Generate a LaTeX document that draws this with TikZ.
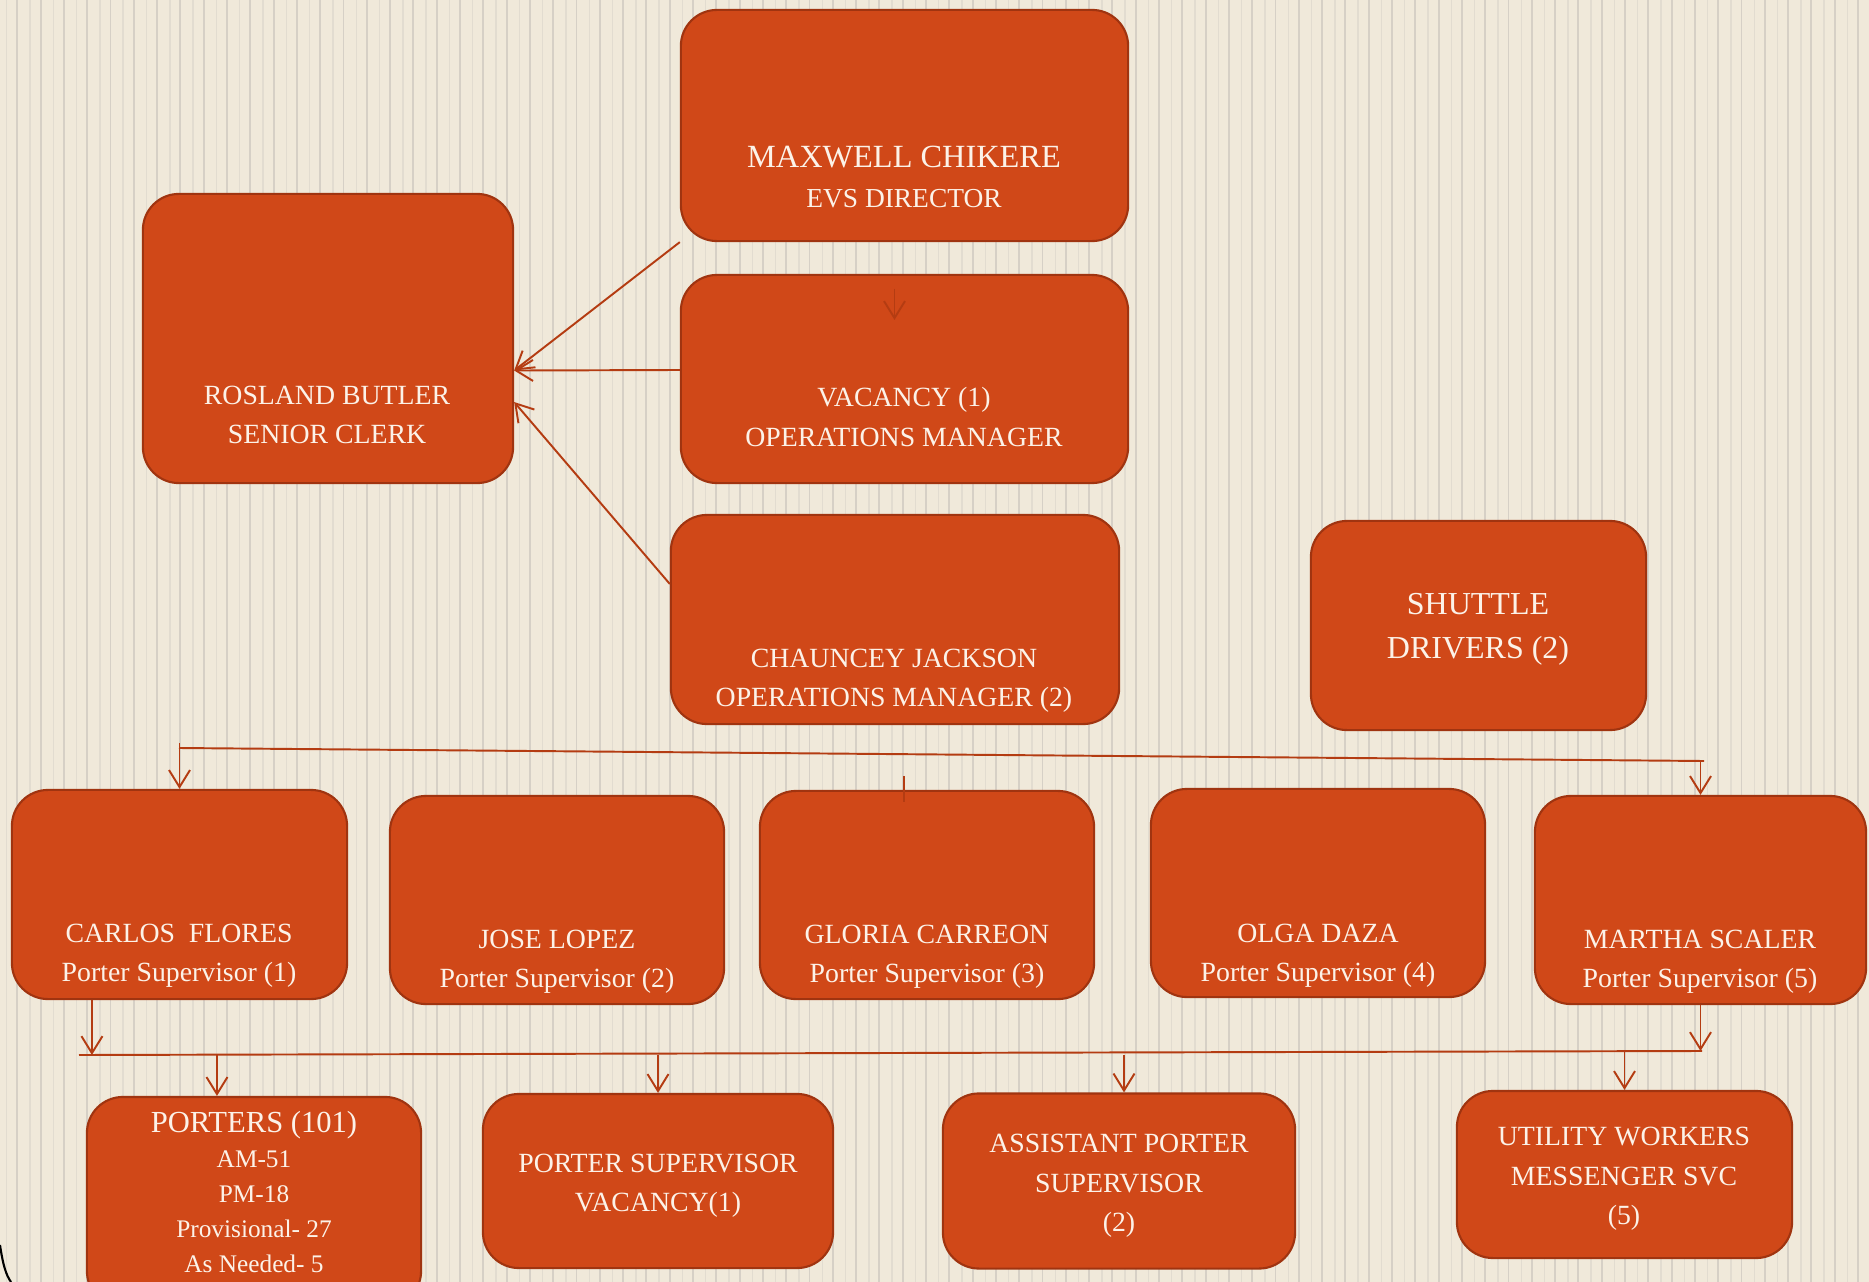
\documentclass[tikz,border=0pt]{standalone}
\usepackage{fontspec}
\setmainfont{Liberation Serif}
\usetikzlibrary{arrows.meta}
\definecolor{bgcream}{HTML}{F0E9DA}
\definecolor{stripedk}{HTML}{D6D0C6}
\definecolor{stripelt}{HTML}{E2DCD0}
\definecolor{boxfill}{HTML}{D04818}
\definecolor{boxline}{HTML}{A03410}
\definecolor{linkred}{HTML}{B43C12}
\definecolor{txtcream}{HTML}{FCF2E8}
\tikzset{
  box/.style={draw=boxline, line width=0.6pt, fill=boxfill, rounded corners=0.36cm},
  txt/.style={text=txtcream, align=center, inner sep=0pt, font=\fontsize{7.9}{11.2}\selectfont},
  link/.style={draw=linkred, line width=0.55pt},
  conn/.style={link, -{Straight Barb[length=1.7mm,width=2.1mm]}}
}
\begin{document}
\begin{tikzpicture}[x=0.01cm,y=-0.01cm]
\useasboundingbox (0,0) rectangle (1869,1282);
\clip (0,0) rectangle (1869,1282);
\fill[bgcream] (0,0) rectangle (1869,1282);
\foreach \i in {0,...,80} {
  \draw[stripelt, line width=0.4pt] (6.7+23.3*\i,0) -- ++(0,1282);
  \draw[stripedk, line width=0.55pt] (17.3+23.3*\i,0) -- ++(0,1282);
}
\draw[black, line width=0.6pt] (0,1245) .. controls (3,1265) and (6,1275) .. (11,1282);

\node[box, minimum width=4.47cm, minimum height=2.31cm] (maxwell) at (904.5,125.5) {};
\node[box, minimum width=3.70cm, minimum height=2.89cm] (rosland) at (328,338.5) {};
\node[box, minimum width=4.47cm, minimum height=2.08cm] (vacancy) at (904.5,379) {};
\node[box, minimum width=4.48cm, minimum height=2.09cm] (chauncey) at (895,619.5) {};
\node[box, minimum width=3.35cm, minimum height=2.09cm] (shuttle) at (1478.5,625.5) {};
\node[box, minimum width=3.35cm, minimum height=2.09cm] (carlos) at (179.5,894.5) {};
\node[box, minimum width=3.34cm, minimum height=2.08cm] (jose) at (557,900) {};
\node[box, minimum width=3.34cm, minimum height=2.08cm] (gloria) at (927,895) {};
\node[box, minimum width=3.34cm, minimum height=2.08cm] (olga) at (1318,893) {};
\node[box, minimum width=3.31cm, minimum height=2.08cm] (martha) at (1700.5,900) {};
\node[box, minimum width=3.34cm, minimum height=2.10cm] (porters) at (254,1202) {};
\node[box, minimum width=3.50cm, minimum height=1.74cm] (psvac) at (658,1181) {};
\node[box, minimum width=3.52cm, minimum height=1.75cm] (assist) at (1119,1181) {};
\node[box, minimum width=3.35cm, minimum height=1.67cm] (utility) at (1624.5,1174.5) {};

\node[txt, font=\fontsize{7.8}{11.4}\selectfont] (maxwellT) at (904,177) {{\fontsize{9.2}{11.4}\selectfont MAXWELL CHIKERE}\\EVS DIRECTOR};
\node[txt] (roslandT) at (327,415) {ROSLAND BUTLER\\SENIOR CLERK};
\node[txt] (vacancyT) at (904,417) {VACANCY (1)\\OPERATIONS MANAGER};
\node[txt] (chaunceyT) at (894,681) {CHAUNCEY JACKSON\\OPERATIONS MANAGER (2)};
\node[txt, font=\fontsize{9.1}{12.5}\selectfont] (shuttleT) at (1478,629) {SHUTTLE\\DRIVERS (2)};
\node[txt] (carlosT) at (179,956) {CARLOS\ \ FLORES\\Porter Supervisor (1)};
\node[txt] (joseT) at (557,962) {JOSE LOPEZ\\Porter Supervisor (2)};
\node[txt] (gloriaT) at (927,957) {GLORIA CARREON\\Porter Supervisor (3)};
\node[txt] (olgaT) at (1318,956) {OLGA DAZA\\Porter Supervisor (4)};
\node[txt] (marthaT) at (1700,962) {MARTHA SCALER\\Porter Supervisor (5)};
\node[txt, font=\fontsize{7.2}{10}\selectfont] (portersT) at (254,1192) {{\fontsize{8.7}{10.5}\selectfont PORTERS (101)}\\AM-51\\PM-18\\Provisional- 27\\As Needed- 5};
\node[txt] (psvacT) at (658,1186) {PORTER SUPERVISOR\\VACANCY(1)};
\node[txt] (assistT) at (1119,1186) {ASSISTANT PORTER\\SUPERVISOR\\(2)};
\node[txt] (utilityT) at (1624,1179) {UTILITY WORKERS\\MESSENGER SVC\\(5)};

\draw[conn] (maxwell.south west) -- ([yshift=-0.32cm]rosland.east);
\draw[conn] ([yshift=0.09cm]vacancy.west) -- ([yshift=-0.32cm]rosland.east);
\draw[conn] ([yshift=0.355cm]chauncey.west) -- ([yshift=-0.635cm]rosland.east);
\draw[conn] ([xshift=-0.1cm,yshift=-0.15cm]vacancy.north) -- ([xshift=-0.1cm,yshift=-0.46cm]vacancy.north);

\coordinate (topL) at (179,748);
\coordinate (topR) at (1704,761);
\draw[link] (topL) -- (topR);
\draw[conn] ([yshift=0.05cm]carlos.north |- topL) -- (carlos.north);
\draw[conn] (martha.north |- topR) -- (martha.north);
\draw[link] ([xshift=-0.23cm,yshift=0.14cm]gloria.north) -- ([xshift=-0.23cm,yshift=-0.12cm]gloria.north);

\coordinate (botL) at (79,1055);
\coordinate (botR) at (1702,1051);
\draw[link] (botL) -- (botR);
\draw[conn] ([xshift=-0.875cm]carlos.south) -- ([xshift=-0.875cm]carlos.south |- botL);
\draw[conn] (martha.south) -- (martha.south |- botR);
\draw[conn] ([xshift=-0.37cm]porters.north |- botL) -- ([xshift=-0.37cm]porters.north);
\draw[conn] (psvac.north |- botL) -- (psvac.north);
\draw[conn] ([xshift=0.05cm]assist.north |- botL) -- ([xshift=0.05cm]assist.north);
\draw[conn] (utility.north |- botR) -- (utility.north);
\end{tikzpicture}
\end{document}
